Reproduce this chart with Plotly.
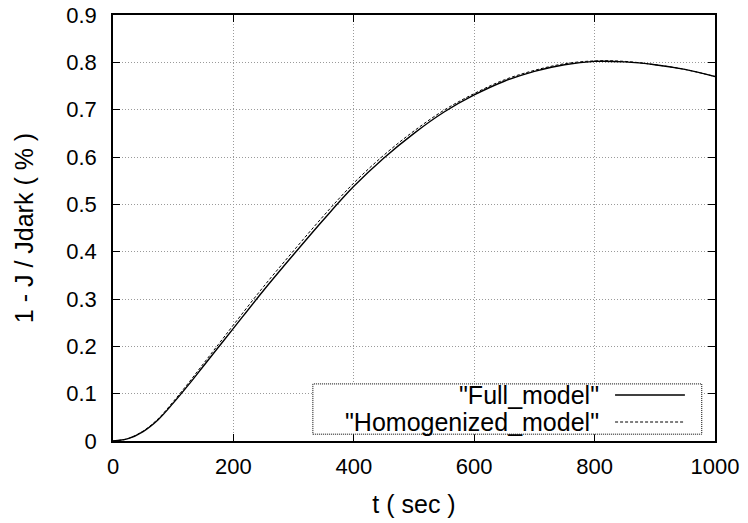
import plotly.graph_objects as go

t = [0, 25, 50, 75, 100, 125, 150, 175, 200, 250, 300, 350, 400, 450, 500,
     550, 600, 650, 700, 750, 800, 850, 900, 950, 1000]
full_model = [0, 0.005, 0.02, 0.045, 0.08, 0.118, 0.158, 0.198, 0.238, 0.318,
              0.394, 0.468, 0.538, 0.598, 0.65, 0.695, 0.731, 0.76, 0.781,
              0.795, 0.802, 0.801, 0.795, 0.785, 0.77]
homog_model = [0, 0.005, 0.021, 0.047, 0.083, 0.122, 0.163, 0.204, 0.245, 0.326,
               0.402, 0.476, 0.545, 0.604, 0.655, 0.699, 0.734, 0.763, 0.783,
               0.797, 0.803, 0.802, 0.795, 0.785, 0.77]
x_ticks = [0, 200, 400, 600, 800, 1000]
y_ticks = [0, 0.1, 0.2, 0.3, 0.4, 0.5, 0.6, 0.7, 0.8, 0.9]
series_names = ['"Full_model"', '"Homogenized_model"']

fig = go.Figure()
fig.add_trace(go.Scatter(x=t, y=full_model, mode="lines", line=dict(color="black", width=1.4, shape="spline"),
                         name=series_names[0], showlegend=False))
fig.add_trace(go.Scatter(x=t, y=homog_model, mode="lines",
                         line=dict(color="black", width=1, dash="3px,2px", shape="spline"),
                         name=series_names[1], showlegend=False))

family = "Liberation Sans, Arial, sans-serif"
tick_font = dict(family=family, size=22, color="black")
title_font = dict(family=family, size=25, color="black")

axis_common = dict(showline=True, linecolor="black", linewidth=1.5, mirror="ticks",
                   ticks="inside", ticklen=7, tickcolor="black",
                   showgrid=True, gridcolor="#9a9a9a", griddash="1px,2px", gridwidth=1,
                   zeroline=False, tickfont=tick_font, automargin=False)

fig.update_xaxes(range=[0, 1000], tickvals=x_ticks, ticktext=[str(v) for v in x_ticks],
                 ticklabelstandoff=5,
                 title=dict(text="t ( sec )", font=title_font, standoff=17), **axis_common)
fig.update_yaxes(range=[0, 0.9], tickvals=y_ticks, ticktext=[f"{v:g}" for v in y_ticks],
                 ticklabelstandoff=10,
                 title=dict(text="1 - J / Jdark ( % )", font=title_font, standoff=26), **axis_common)

# manual gnuplot-style legend
shapes = [dict(type="rect", xref="paper", yref="paper", x0=0.332, x1=0.978, y0=0.016, y1=0.134,
               line=dict(color="black", width=1, dash="1px,1px"), fillcolor="white", layer="above")]
rows_y = [0.108, 0.0446]
dashes = ["solid", "3px,2px"]
widths = [1.4, 1]
annotations = []
for name, ry, d, w in zip(series_names, rows_y, dashes, widths):
    annotations.append(dict(text=name, xref="paper", yref="paper", x=0.811, y=ry,
                            xanchor="right", yanchor="middle", showarrow=False, font=title_font))
    shapes.append(dict(type="line", xref="paper", yref="paper", x0=0.834, x1=0.950, y0=ry, y1=ry,
                       line=dict(color="black", width=w, dash=d), layer="above"))

fig.update_layout(width=748, height=523, margin=dict(l=113, r=33, t=15, b=82),
                  plot_bgcolor="white", paper_bgcolor="white", font=tick_font,
                  shapes=shapes, annotations=annotations)

fig.write_html("out.html")
